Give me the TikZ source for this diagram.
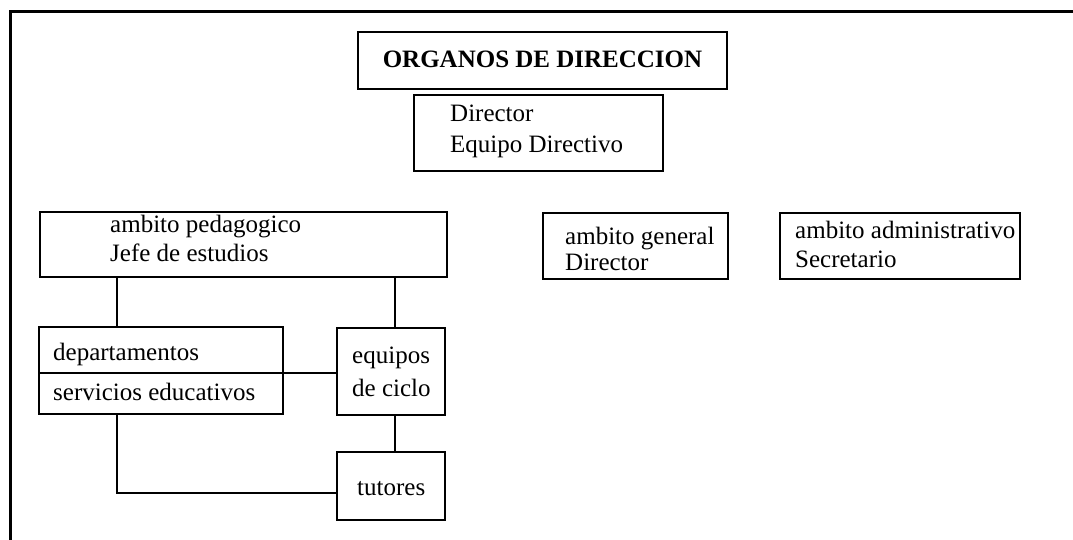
\documentclass[tikz,border=0pt]{standalone}
\usepackage{fontspec}
\setmainfont{Liberation Serif}
\begin{document}
\begin{tikzpicture}[x=1pt,y=-1pt,
  box/.style={draw, line width=1.4pt, rectangle, inner sep=0pt, outer sep=0pt},
  label/.style={anchor=base west, inner sep=0pt, font=\fontsize{25}{25}\selectfont},
  link/.style={line width=1.4pt}]
\useasboundingbox (0,0) rectangle (1073,540);
\fill[white] (0,0) rectangle (1073,540);
% outer frame: top edge and left edge
\draw[line width=3pt] (10,540) |- (1073,12);

% boxes
\node[box, line width=2.4pt, minimum width=369pt, minimum height=57pt] (org) at (542.5,60.5) {};
\node[box, minimum width=249pt, minimum height=76pt] (dir) at (538.5,133) {};
\node[box, minimum width=407pt, minimum height=65pt] (ped) at (243.5,244.5) {};
\node[box, minimum width=185pt, minimum height=66pt] (gen) at (635.5,246) {};
\node[box, minimum width=240pt, minimum height=66pt] (adm) at (900,246) {};
\node[box, minimum width=244pt, minimum height=87pt] (dep) at (161,370.5) {};
\node[box, minimum width=108pt, minimum height=87pt] (equ) at (391,371.5) {};
\node[box, minimum width=108pt, minimum height=68pt] (tut) at (391,486) {};

% texts
\node[anchor=base, inner sep=0pt, font=\fontsize{25}{25}\selectfont\bfseries] (orgt) at (542.5,68) {ORGANOS DE DIRECCION};
\node[label] (dir1) at (450,122) {Director};
\node[label] (dir2) at (450,153) {Equipo Directivo};
\node[label] (ped1) at (110,233) {ambito pedagogico};
\node[label] (ped2) at (110,261) {Jefe de estudios};
\node[label] (gen1) at (565,244) {ambito general};
\node[label] (gen2) at (565,270) {Director};
\node[label] (adm1) at (795,238) {ambito administrativo};
\node[label] (adm2) at (795,267) {Secretario};
\node[label] (dep1) at (53,360) {departamentos};
\node[label] (dep2) at (53,400) {servicios educativos};
\node[label] (equ1) at (352,363) {equipos};
\node[label] (equ2) at (352,396) {de ciclo};
\node[label] (tut1) at (357,495) {tutores};

% divider inside the departamentos box
\coordinate (split) at (0,373);
\draw[link] (dep.west |- split) -- (dep.east |- split);

% connectors
\coordinate (colA) at (117,0);
\coordinate (colB) at (395,0);
\coordinate (rowC) at (0,493);
\draw[link] (ped.south -| colA) -- (dep.north -| colA);
\draw[link] (ped.south -| colB) -- (equ.north -| colB);
\draw[link] (dep.east |- split) -- (equ.west |- split);
\draw[link] (equ.south -| colB) -- (tut.north -| colB);
\draw[link] (dep.south -| colA) -- (colA |- rowC) -- (tut.west |- rowC);
\end{tikzpicture}
\end{document}
